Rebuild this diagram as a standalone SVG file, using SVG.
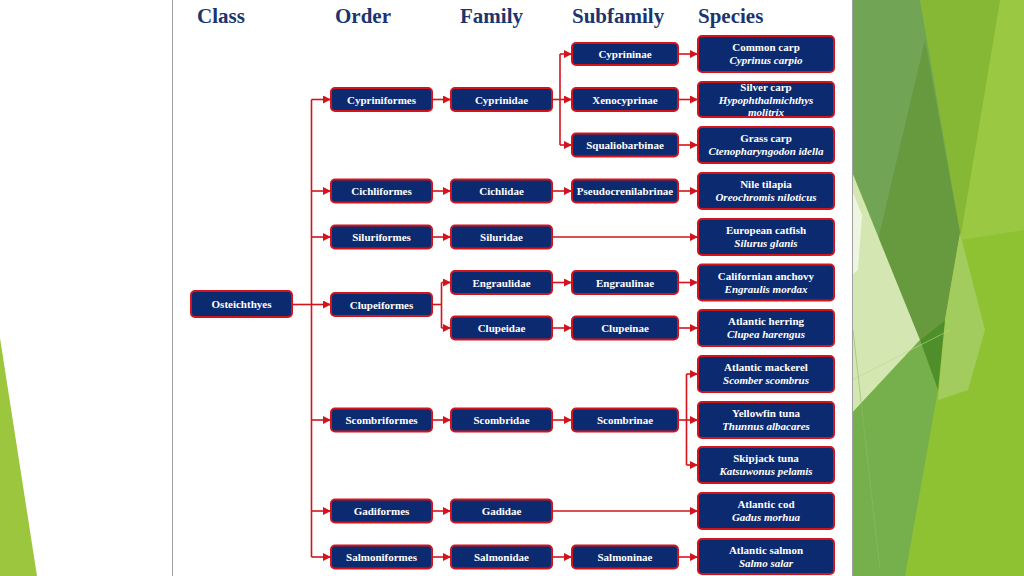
<svg xmlns="http://www.w3.org/2000/svg" width="1024" height="576" viewBox="0 0 1024 576">
<defs>
<style>
.nd{fill:#0c2a70;stroke:#d3141d;stroke-width:2}
.t{font-family:"Liberation Serif","Times New Roman",serif;font-weight:bold;font-size:11px;fill:#ffffff;text-anchor:middle}
.i{font-style:italic}
.h{font-family:"Liberation Serif","Times New Roman",serif;font-weight:bold;font-size:21px;fill:#1b356f}
.c{fill:none;stroke:#d3141d;stroke-width:1.6}
.a{fill:none;stroke:#d3141d;stroke-width:1.6;marker-end:url(#ah)}
</style>
<marker id="ah" markerUnits="userSpaceOnUse" markerWidth="9" markerHeight="8" refX="8" refY="4" orient="auto">
<path d="M0,0 L8,4 L0,8 z" fill="#d3141d"/>
</marker>
</defs>
<rect x="0" y="0" width="1024" height="576" fill="#ffffff"/>
<polygon points="0,338 37,576 0,576" fill="#9cc63e"/>
<g id="decor">
<rect x="852" y="0" width="172" height="576" fill="#8fc232"/>
<polygon points="1000,0 1024,0 1024,230 960,240" fill="#9ac843"/>
<polygon points="920,0 1000,0 960,240" fill="#86b735"/>
<polygon points="852,0 920,0 960,233 920,340 852,172" fill="#71a555"/>
<polygon points="925,40 960,233 945,320 920,340 878,240" fill="#67993f"/>
<polygon points="960,233 985,330 968,390 938,400 945,320" fill="#a3cc5e"/>
<polygon points="852,172 920,340 852,413" fill="#d4e7b2"/>
<polygon points="852,190 862,215 858,270 852,275" fill="#eef6e2"/>
<polygon points="852,413 920,340 938,390 905,576 852,576" fill="#76b04c"/>
<polygon points="920,340 945,320 938,390" fill="#4f8f2b"/>
<line x1="852" y1="380" x2="950" y2="330" stroke="#b8d88a" stroke-width="0.6"/>
<line x1="853" y1="330" x2="880" y2="570" stroke="#8fb86a" stroke-width="0.6"/>
</g>
<rect x="172.5" y="-1" width="680" height="580" fill="#ffffff" stroke="#a0a0a0" stroke-width="1"/>
<g id="headers">
<text class="h" x="197" y="23">Class</text>
<text class="h" x="335" y="23">Order</text>
<text class="h" x="460" y="23">Family</text>
<text class="h" x="572" y="23">Subfamily</text>
<text class="h" x="698" y="23">Species</text>
</g>
<g id="connectors">
<line class="c" x1="292" y1="304.5" x2="311.5" y2="304.5"/>
<line class="c" x1="311.5" y1="99.5" x2="311.5" y2="557"/>
<line class="a" x1="311.5" y1="99.5" x2="331" y2="99.5"/>
<line class="a" x1="311.5" y1="191" x2="331" y2="191"/>
<line class="a" x1="311.5" y1="237" x2="331" y2="237"/>
<line class="a" x1="311.5" y1="304.5" x2="331" y2="304.5"/>
<line class="a" x1="311.5" y1="420" x2="331" y2="420"/>
<line class="a" x1="311.5" y1="511" x2="331" y2="511"/>
<line class="a" x1="311.5" y1="557" x2="331" y2="557"/>
<line class="a" x1="432" y1="99.5" x2="451" y2="99.5"/>
<line class="a" x1="432" y1="191" x2="451" y2="191"/>
<line class="a" x1="432" y1="237" x2="451" y2="237"/>
<line class="a" x1="432" y1="420" x2="451" y2="420"/>
<line class="a" x1="432" y1="511" x2="451" y2="511"/>
<line class="a" x1="432" y1="557" x2="451" y2="557"/>
<line class="c" x1="432" y1="304.5" x2="441.5" y2="304.5"/>
<line class="c" x1="441.5" y1="282.5" x2="441.5" y2="328"/>
<line class="a" x1="441.5" y1="282.5" x2="451" y2="282.5"/>
<line class="a" x1="441.5" y1="328" x2="451" y2="328"/>
<line class="c" x1="552" y1="99.5" x2="560" y2="99.5"/>
<line class="c" x1="560" y1="54" x2="560" y2="145"/>
<line class="a" x1="560" y1="54" x2="572" y2="54"/>
<line class="a" x1="560" y1="99.5" x2="572" y2="99.5"/>
<line class="a" x1="560" y1="145" x2="572" y2="145"/>
<line class="a" x1="552" y1="191" x2="572" y2="191"/>
<line class="a" x1="552" y1="282.5" x2="572" y2="282.5"/>
<line class="a" x1="552" y1="328" x2="572" y2="328"/>
<line class="a" x1="552" y1="420" x2="572" y2="420"/>
<line class="a" x1="552" y1="557" x2="572" y2="557"/>
<line class="a" x1="552" y1="237" x2="698" y2="237"/>
<line class="a" x1="552" y1="511" x2="698" y2="511"/>
<line class="a" x1="678" y1="54" x2="698" y2="54"/>
<line class="a" x1="678" y1="99.5" x2="698" y2="99.5"/>
<line class="a" x1="678" y1="145" x2="698" y2="145"/>
<line class="a" x1="678" y1="191" x2="698" y2="191"/>
<line class="a" x1="678" y1="282.5" x2="698" y2="282.5"/>
<line class="a" x1="678" y1="328" x2="698" y2="328"/>
<line class="a" x1="678" y1="557" x2="698" y2="557"/>
<line class="c" x1="678" y1="420" x2="686.5" y2="420"/>
<line class="c" x1="686.5" y1="374" x2="686.5" y2="465"/>
<line class="a" x1="686.5" y1="374" x2="698" y2="374"/>
<line class="a" x1="686.5" y1="420" x2="698" y2="420"/>
<line class="a" x1="686.5" y1="465" x2="698" y2="465"/>
</g>
<g id="n-osteichthyes"><rect class="nd" x="191" y="291" width="101" height="26" rx="4"/><text class="t" x="241.5" y="308">Osteichthyes</text></g>
<g id="n-cypriniformes"><rect class="nd" x="331" y="88" width="101" height="23" rx="4"/><text class="t" x="381.5" y="103.5">Cypriniformes</text></g>
<g id="n-cichliformes"><rect class="nd" x="331" y="179.5" width="101" height="23" rx="4"/><text class="t" x="381.5" y="195">Cichliformes</text></g>
<g id="n-siluriformes"><rect class="nd" x="331" y="225.5" width="101" height="23" rx="4"/><text class="t" x="381.5" y="241">Siluriformes</text></g>
<g id="n-clupeiformes"><rect class="nd" x="331" y="293" width="101" height="23" rx="4"/><text class="t" x="381.5" y="308.5">Clupeiformes</text></g>
<g id="n-scombriformes"><rect class="nd" x="331" y="408.5" width="101" height="23" rx="4"/><text class="t" x="381.5" y="424">Scombriformes</text></g>
<g id="n-gadiformes"><rect class="nd" x="331" y="499.5" width="101" height="23" rx="4"/><text class="t" x="381.5" y="515">Gadiformes</text></g>
<g id="n-salmoniformes"><rect class="nd" x="331" y="545.5" width="101" height="23" rx="4"/><text class="t" x="381.5" y="561">Salmoniformes</text></g>
<g id="n-cyprinidae"><rect class="nd" x="451" y="88" width="101" height="23" rx="4"/><text class="t" x="501.5" y="103.5">Cyprinidae</text></g>
<g id="n-cichlidae"><rect class="nd" x="451" y="179.5" width="101" height="23" rx="4"/><text class="t" x="501.5" y="195">Cichlidae</text></g>
<g id="n-siluridae"><rect class="nd" x="451" y="225.5" width="101" height="23" rx="4"/><text class="t" x="501.5" y="241">Siluridae</text></g>
<g id="n-engraulidae"><rect class="nd" x="451" y="271" width="101" height="23" rx="4"/><text class="t" x="501.5" y="286.5">Engraulidae</text></g>
<g id="n-clupeidae"><rect class="nd" x="451" y="316.5" width="101" height="23" rx="4"/><text class="t" x="501.5" y="332">Clupeidae</text></g>
<g id="n-scombridae"><rect class="nd" x="451" y="408.5" width="101" height="23" rx="4"/><text class="t" x="501.5" y="424">Scombridae</text></g>
<g id="n-gadidae"><rect class="nd" x="451" y="499.5" width="101" height="23" rx="4"/><text class="t" x="501.5" y="515">Gadidae</text></g>
<g id="n-salmonidae"><rect class="nd" x="451" y="545.5" width="101" height="23" rx="4"/><text class="t" x="501.5" y="561">Salmonidae</text></g>
<g id="n-cyprininae"><rect class="nd" x="572" y="43" width="106" height="22" rx="4"/><text class="t" x="625" y="58">Cyprininae</text></g>
<g id="n-xenocyprinae"><rect class="nd" x="572" y="88" width="106" height="23" rx="4"/><text class="t" x="625" y="103.5">Xenocyprinae</text></g>
<g id="n-squaliobarbinae"><rect class="nd" x="572" y="133.5" width="106" height="23" rx="4"/><text class="t" x="625" y="149">Squaliobarbinae</text></g>
<g id="n-pseudocrenilabrinae"><rect class="nd" x="572" y="179.5" width="106" height="23" rx="4"/><text class="t" x="625" y="195">Pseudocrenilabrinae</text></g>
<g id="n-engraulinae"><rect class="nd" x="572" y="271" width="106" height="23" rx="4"/><text class="t" x="625" y="286.5">Engraulinae</text></g>
<g id="n-clupeinae"><rect class="nd" x="572" y="316.5" width="106" height="23" rx="4"/><text class="t" x="625" y="332">Clupeinae</text></g>
<g id="n-scombrinae"><rect class="nd" x="572" y="408.5" width="106" height="23" rx="4"/><text class="t" x="625" y="424">Scombrinae</text></g>
<g id="n-salmoninae"><rect class="nd" x="572" y="545.5" width="106" height="23" rx="4"/><text class="t" x="625" y="561">Salmoninae</text></g>
<g id="n-common-carp"><rect class="nd" x="698" y="36" width="136" height="36" rx="4"/><text class="t" x="766" y="51">Common carp</text><text class="t i" x="766" y="64">Cyprinus carpio</text></g>
<g id="n-silver-carp"><rect class="nd" x="698" y="82" width="136" height="35" rx="4"/><text class="t" x="766" y="91">Silver carp</text><text class="t i" x="766" y="103.5">Hypophthalmichthys</text><text class="t i" x="766" y="116">molitrix</text></g>
<g id="n-grass-carp"><rect class="nd" x="698" y="127" width="136" height="36" rx="4"/><text class="t" x="766" y="142">Grass carp</text><text class="t i" x="766" y="155">Ctenopharyngodon idella</text></g>
<g id="n-nile-tilapia"><rect class="nd" x="698" y="173" width="136" height="36" rx="4"/><text class="t" x="766" y="188">Nile tilapia</text><text class="t i" x="766" y="201">Oreochromis niloticus</text></g>
<g id="n-european-catfish"><rect class="nd" x="698" y="219" width="136" height="36" rx="4"/><text class="t" x="766" y="234">European catfish</text><text class="t i" x="766" y="247">Silurus glanis</text></g>
<g id="n-californian-anchovy"><rect class="nd" x="698" y="264.5" width="136" height="36" rx="4"/><text class="t" x="766" y="279.5">Californian anchovy</text><text class="t i" x="766" y="292.5">Engraulis mordax</text></g>
<g id="n-atlantic-herring"><rect class="nd" x="698" y="310" width="136" height="36" rx="4"/><text class="t" x="766" y="325">Atlantic herring</text><text class="t i" x="766" y="338">Clupea harengus</text></g>
<g id="n-atlantic-mackerel"><rect class="nd" x="698" y="356" width="136" height="36" rx="4"/><text class="t" x="766" y="371">Atlantic mackerel</text><text class="t i" x="766" y="384">Scomber scombrus</text></g>
<g id="n-yellowfin-tuna"><rect class="nd" x="698" y="402" width="136" height="36" rx="4"/><text class="t" x="766" y="417">Yellowfin tuna</text><text class="t i" x="766" y="430">Thunnus albacares</text></g>
<g id="n-skipjack-tuna"><rect class="nd" x="698" y="447" width="136" height="36" rx="4"/><text class="t" x="766" y="462">Skipjack tuna</text><text class="t i" x="766" y="475">Katsuwonus pelamis</text></g>
<g id="n-atlantic-cod"><rect class="nd" x="698" y="493" width="136" height="36" rx="4"/><text class="t" x="766" y="508">Atlantic cod</text><text class="t i" x="766" y="521">Gadus morhua</text></g>
<g id="n-atlantic-salmon"><rect class="nd" x="698" y="539" width="136" height="35" rx="4"/><text class="t" x="766" y="554">Atlantic salmon</text><text class="t i" x="766" y="567">Salmo salar</text></g>
</svg>
